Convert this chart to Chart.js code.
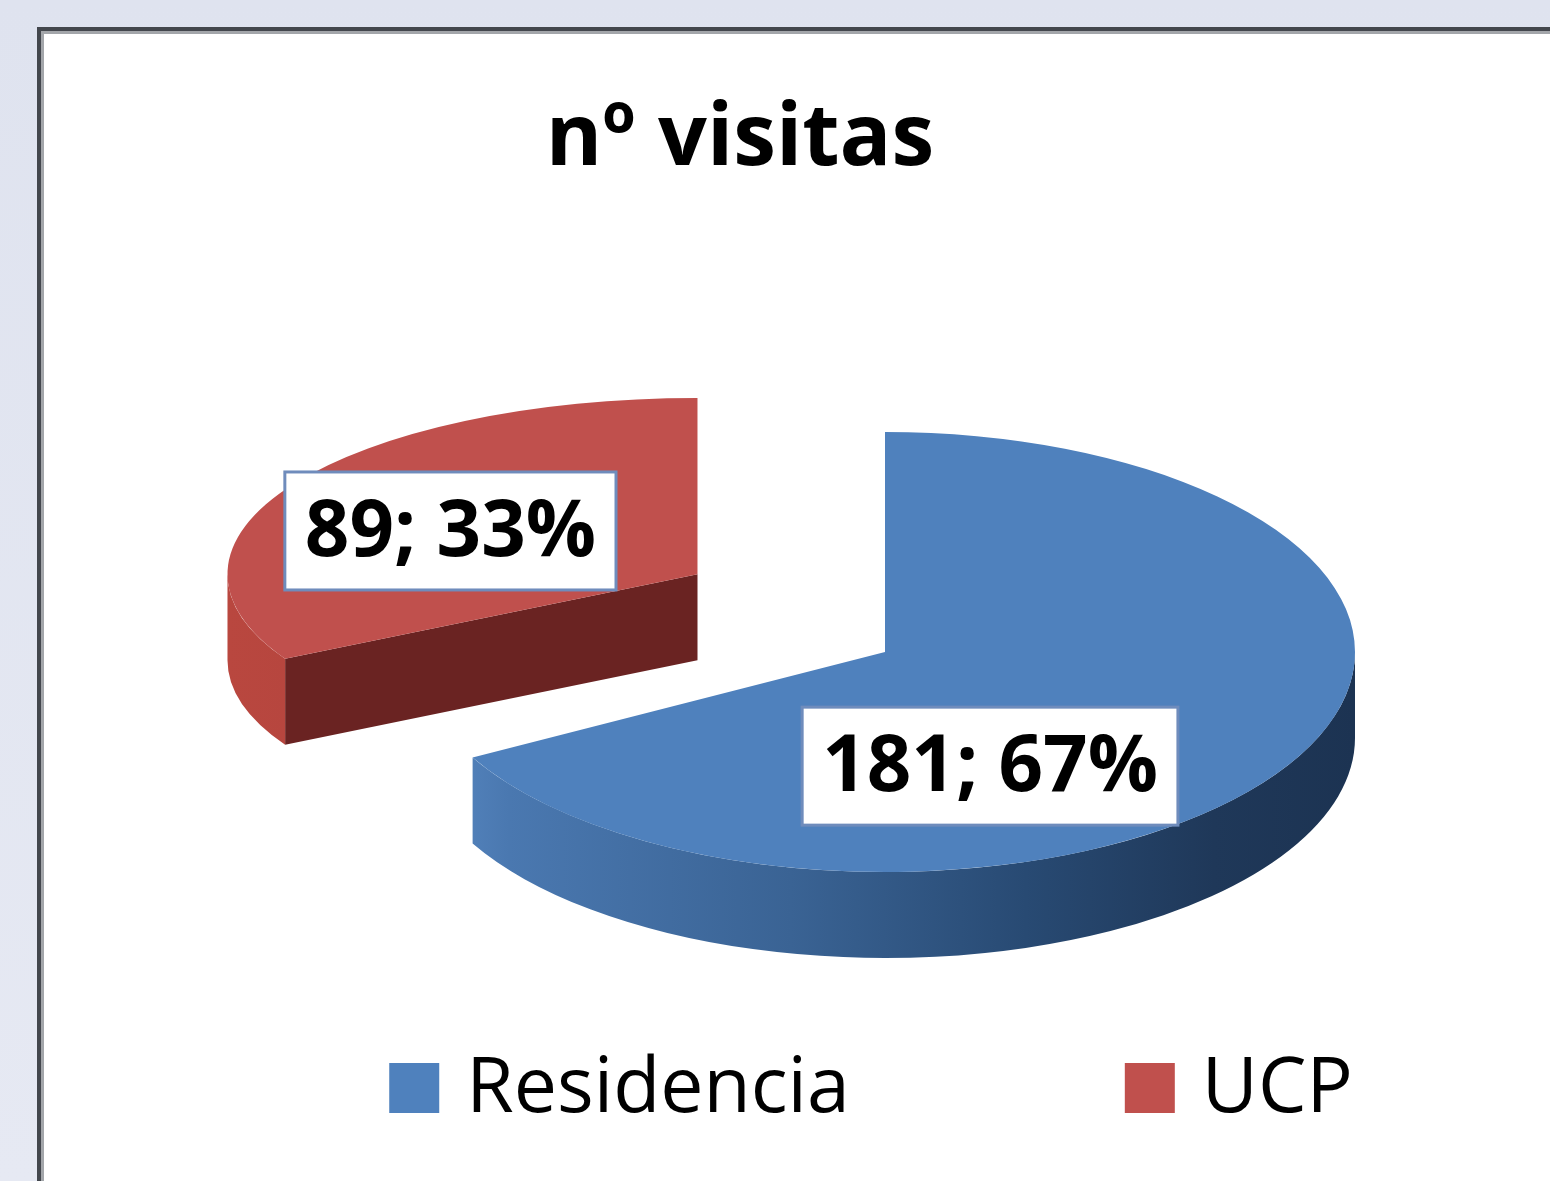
<!DOCTYPE html>
<html lang="es">
<head>
<meta charset="utf-8">
<title>nº visitas</title>
<script src="https://cdn.jsdelivr.net/npm/chart.js@4.4.1/dist/chart.umd.min.js"></script>
<style>
    html, body {
        margin: 0;
        padding: 0;
        width: 1550px;
        height: 1181px;
        overflow: hidden;
        background: linear-gradient(180deg, #dfe3ef 0%, #e6e9f3 100%);
        font-family: "Open Sans", sans-serif;
    }
    .panel {
        position: absolute;
        left: 37px;
        top: 27px;
        width: 1600px;
        height: 1250px;
        background: #fff;
        border-left: 4px solid #43474d;
        border-top: 4px solid #43474d;
        box-shadow: inset 3px 3px 0 #a3a6aa;
    }
    .chart-title {
        position: absolute;
        left: 0;
        top: 89px;
        width: 1480px;
        text-align: center;
        font-weight: 700;
        font-size: 86px;
        line-height: 86px;
        color: #000;
    }
    .chart-box {
        position: absolute;
        left: 40px;
        top: 30px;
        width: 1510px;
        height: 1151px;
    }
</style>
</head>
<body>
<div class="panel"></div>
<div class="chart-title">nº visitas</div>
<div class="chart-box"><canvas id="visitsChart"></canvas></div>

<script>
// Chart data
const categories = ['Residencia', 'UCP'];
const visits = [181, 89];

const sliceColors = ['#4f81bd', '#c0504d'];

// Helper: front-facing part of an arc (angles between 0 and PI, canvas coords)
function frontRanges(a1, a2) {
    const out = [];
    for (let k = -1; k <= 1; k++) {
        const lo = Math.max(a1, 2 * Math.PI * k);
        const hi = Math.min(a2, 2 * Math.PI * k + Math.PI);
        if (hi > lo) out.push([lo, hi]);
    }
    return out;
}

// Fake 3D pie: squash, extrude and explode the library's arcs
const pie3dPlugin = {
    id: 'pie3d',
    beforeDatasetsDraw(chart, args, opts) {
        const ctx = chart.ctx;
        const arcs = chart.getDatasetMeta(0).data;
        const cx = arcs[0].x;
        const cy = arcs[0].y;
        const total = visits.reduce((a, b) => a + b, 0);

        // back slices first
        const order = arcs.map((_, i) => i).sort((a, b) => opts.explode[b] - opts.explode[a]);
        const centers = [];

        order.forEach(i => {
            const arc = arcs[i];
            const {startAngle, endAngle, outerRadius} = arc.getProps(['startAngle', 'endAngle', 'outerRadius']);
            const r = outerRadius;
            const sy = opts.tilt[i];
            const depth = opts.depth / sy;
            const mid = (startAngle + endAngle) / 2;
            // exploded slice centre, in screen pixels
            const ox = cx + Math.cos(mid) * opts.explode[i];
            const oy = cy + Math.sin(mid) * opts.explode[i] * opts.explodeTilt;
            centers[i] = {ox, oy, r, mid, sy};

            ctx.save();
            ctx.translate(ox, oy);
            ctx.scale(1, sy);
            ctx.translate(-cx, -cy);

            // radial cut faces turned towards the viewer
            [[startAngle, -Math.cos(startAngle)], [endAngle, Math.cos(endAngle)]].forEach(([a, facing]) => {
                if (facing < 0.02) return;
                ctx.beginPath();
                ctx.moveTo(cx, cy);
                ctx.lineTo(cx + Math.cos(a) * r, cy + Math.sin(a) * r);
                ctx.lineTo(cx + Math.cos(a) * r, cy + Math.sin(a) * r + depth);
                ctx.lineTo(cx, cy + depth);
                ctx.closePath();
                ctx.fillStyle = opts.faceColors[i];
                ctx.fill();
            });

            // outer wall
            frontRanges(startAngle, endAngle).forEach(([lo, hi]) => {
                const grad = ctx.createLinearGradient(cx - r, 0, cx + r, 0);
                opts.wallStops[i].forEach(([p, c]) => grad.addColorStop(p, c));
                ctx.beginPath();
                ctx.arc(cx, cy, r, lo, hi);
                ctx.arc(cx, cy + depth, r, hi, lo, true);
                ctx.closePath();
                ctx.fillStyle = grad;
                ctx.fill();
            });

            // top face, drawn by the arc element itself
            arc.draw(ctx);
            ctx.restore();
        });

        // data labels "value; pct%"
        ctx.save();
        ctx.font = opts.labelFont;
        ctx.textAlign = 'center';
        ctx.textBaseline = 'middle';
        arcs.forEach((arc, i) => {
            const c = centers[i];
            const ang = opts.labelAngle[i] * Math.PI / 180;
            const f = opts.labelRadius[i];
            const x = c.ox + Math.cos(ang) * c.r * f;
            const y = c.oy + Math.sin(ang) * c.r * f * c.sy;
            const text = visits[i] + '; ' + Math.round(visits[i] / total * 100) + '%';
            const w = ctx.measureText(text).width + 40;
            const h = 118;
            ctx.fillStyle = '#ffffff';
            ctx.fillRect(x - w / 2, y - h / 2, w, h);
            ctx.strokeStyle = '#6f8cbc';
            ctx.lineWidth = 3;
            ctx.strokeRect(x - w / 2, y - h / 2, w, h);
            ctx.fillStyle = '#000';
            ctx.fillText(text, x, y + 3);
        });
        ctx.restore();
        return false;
    },

    // legend below the pie
    afterDraw(chart, args, opts) {
        const ctx = chart.ctx;
        const area = chart.chartArea;
        const box = opts.legendBox;
        const textGap = 27;
        ctx.save();
        ctx.font = opts.legendFont;
        ctx.textBaseline = 'middle';
        const widths = chart.data.labels.map(l => box + textGap + ctx.measureText(l).width);
        const full = widths.reduce((a, b) => a + b, 0) + opts.legendGap * (widths.length - 1);
        let x = (area.left + area.right) / 2 - opts.legendShift - full / 2;
        const y = area.bottom + (chart.height - area.bottom) / 2;
        chart.data.labels.forEach((l, i) => {
            ctx.fillStyle = chart.data.datasets[0].backgroundColor[i];
            ctx.fillRect(x, y - box / 2, box, box);
            ctx.fillStyle = '#000';
            ctx.fillText(l, x + box + textGap, y + 2);
            x += widths[i] + opts.legendGap;
        });
        ctx.restore();
    }
};

// Initialize pie chart
function initVisitsChart() {
    const ctx = document.getElementById('visitsChart').getContext('2d');
    new Chart(ctx, {
        type: 'pie',
        data: {
            labels: categories,
            datasets: [{
                data: visits,
                backgroundColor: sliceColors,
                borderWidth: 0
            }]
        },
        options: {
            responsive: true,
            maintainAspectRatio: false,
            animation: false,
            radius: 470,
            layout: {
                padding: {left: 180, right: 0, top: 279, bottom: 186}
            },
            plugins: {
                legend: {display: false},
                tooltip: {enabled: false},
                pie3d: {
                    tilt: [0.468, 0.375],
                    depth: 86,
                    explode: [0, 218],
                    explodeTilt: 0.7,
                    faceColors: ['#24406a', '#6a2322'],
                    wallStops: [
                        [[0, '#5a8ac4'], [0.1, '#4a78b0'], [0.4, '#3a6394'], [0.65, '#284a73'], [0.85, '#1f3859'], [1, '#1c3352']],
                        [[0, '#b9473f'], [0.5, '#a83f3b'], [1, '#7a2a28']]
                    ],
                    labelAngle: [66.7, 205],
                    labelRadius: [0.565, 0.58],
                    labelFont: '700 78px "Open Sans"',
                    legendFont: '400 77px "Open Sans"',
                    legendBox: 50,
                    legendGap: 275,
                    legendShift: 14
                }
            }
        },
        plugins: [pie3dPlugin]
    });
}

document.addEventListener('DOMContentLoaded', function() {
    initVisitsChart();
});
</script>
</body>
</html>
